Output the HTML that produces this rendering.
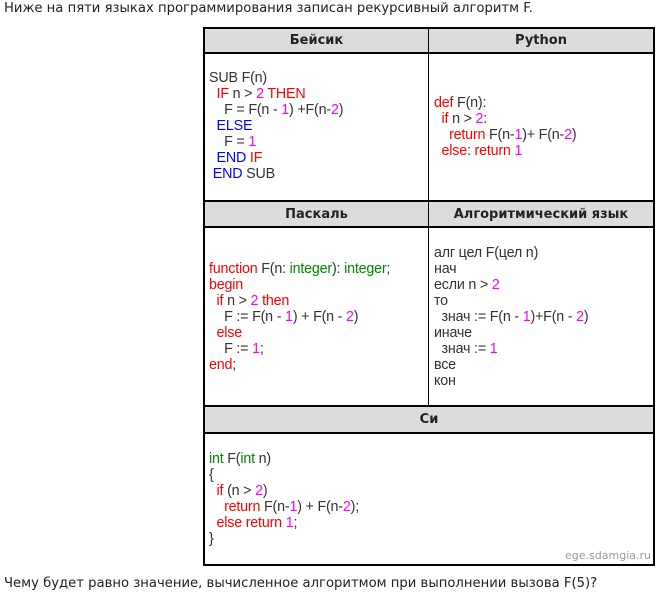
<!DOCTYPE html>
<html><head><meta charset="utf-8"><style>
body{margin:0;width:666px;height:598px;background:#fff;position:relative;overflow:hidden;font-family:"DejaVu Sans","Liberation Sans",sans-serif;}
.t{position:absolute;font-size:13.2px;color:#222;white-space:nowrap;}
.b{position:absolute;background:#000;}
.h{position:absolute;background:#dcdcdc;}
.hd{position:absolute;font-weight:bold;font-size:13px;color:#222;text-align:center;line-height:25px;}
.c{position:absolute;font-family:"Liberation Sans",sans-serif;font-size:14.3px;line-height:16px;color:#333;white-space:pre;letter-spacing:-0.2px;}
.r{color:#f00}.m{color:#f0f}.bl{color:#00f}.g{color:#080}
</style></head><body>
<div class="t" style="left:4px;top:1px;">Ниже на пяти языках программирования записан рекурсивный алгоритм F.</div>
<div class="t" style="left:4px;top:576px;">Чему будет равно значение, вычисленное алгоритмом при выполнении вызова F(5)?</div>

<div class="h" style="left:203px;top:27px;width:452px;height:26px"></div>
<div class="h" style="left:203px;top:201px;width:452px;height:26px"></div>
<div class="h" style="left:203px;top:405px;width:452px;height:28px"></div>

<div class="b" style="left:203px;top:27px;width:452px;height:2px"></div>
<div class="b" style="left:203px;top:52px;width:452px;height:2px"></div>
<div class="b" style="left:203px;top:200px;width:452px;height:2px"></div>
<div class="b" style="left:203px;top:226px;width:452px;height:2px"></div>
<div class="b" style="left:203px;top:405px;width:452px;height:2px"></div>
<div class="b" style="left:203px;top:432px;width:452px;height:2px"></div>
<div class="b" style="left:203px;top:564px;width:452px;height:2px"></div>
<div class="b" style="left:203px;top:27px;width:2px;height:539px"></div>
<div class="b" style="left:653px;top:27px;width:2px;height:539px"></div>
<div class="b" style="left:428px;top:27px;width:1px;height:380px"></div>

<div class="hd" style="left:205px;top:28px;width:223px">Бейсик</div>
<div class="hd" style="left:429px;top:28px;width:224px">Python</div>
<div class="hd" style="left:205px;top:202px;width:223px">Паскаль</div>
<div class="hd" style="left:429px;top:202px;width:224px">Алгоритмический язык</div>
<div class="hd" style="left:205px;top:407px;width:448px">Си</div>

<div class="c" style="left:209px;top:70px">SUB F(n)
  <span class="r">IF</span> n &gt; <span class="m">2</span> <span class="r">THEN</span>
    F = F(n - <span class="m">1</span>) +F(n-<span class="m">2</span>)
  <span class="bl">ELSE</span>
    F = <span class="m">1</span>
  <span class="bl">END</span> <span class="r">IF</span>
 <span class="bl">END</span> SUB</div>

<div class="c" style="left:434px;top:95px"><span class="r">def</span> F(n):
  <span class="r">if</span> n &gt; <span class="m">2</span>:
    <span class="r">return</span> F(n-<span class="m">1</span>)+ F(n-<span class="m">2</span>)
  <span class="r">else</span>: <span class="r">return</span> <span class="m">1</span></div>

<div class="c" style="left:209px;top:261px"><span class="r">function</span> F(n: <span class="g">integer</span>): <span class="g">integer</span>;
<span class="r">begin</span>
  <span class="r">if</span> n &gt; <span class="m">2</span> <span class="r">then</span>
    F := F(n - <span class="m">1</span>) + F(n - <span class="m">2</span>)
  <span class="r">else</span>
    F := <span class="m">1</span>;
<span class="r">end</span>;</div>

<div class="c" style="left:434px;top:245px">алг цел F(цел n)
нач
если n &gt; <span class="m">2</span>
то
  знач := F(n - <span class="m">1</span>)+F(n - <span class="m">2</span>)
иначе
  знач := <span class="m">1</span>
все
кон</div>

<div class="c" style="left:209px;top:451px"><span class="g">int</span> F(<span class="g">int</span> n)
{
  <span class="r">if</span> (n &gt; <span class="m">2</span>)
    <span class="r">return</span> F(n-<span class="m">1</span>) + F(n-<span class="m">2</span>);
  <span class="r">else return</span> <span class="m">1</span>;
}</div>

<div class="t" style="right:15px;top:549px;font-size:11px;color:#999">ege.sdamgia.ru</div>
</body></html>
